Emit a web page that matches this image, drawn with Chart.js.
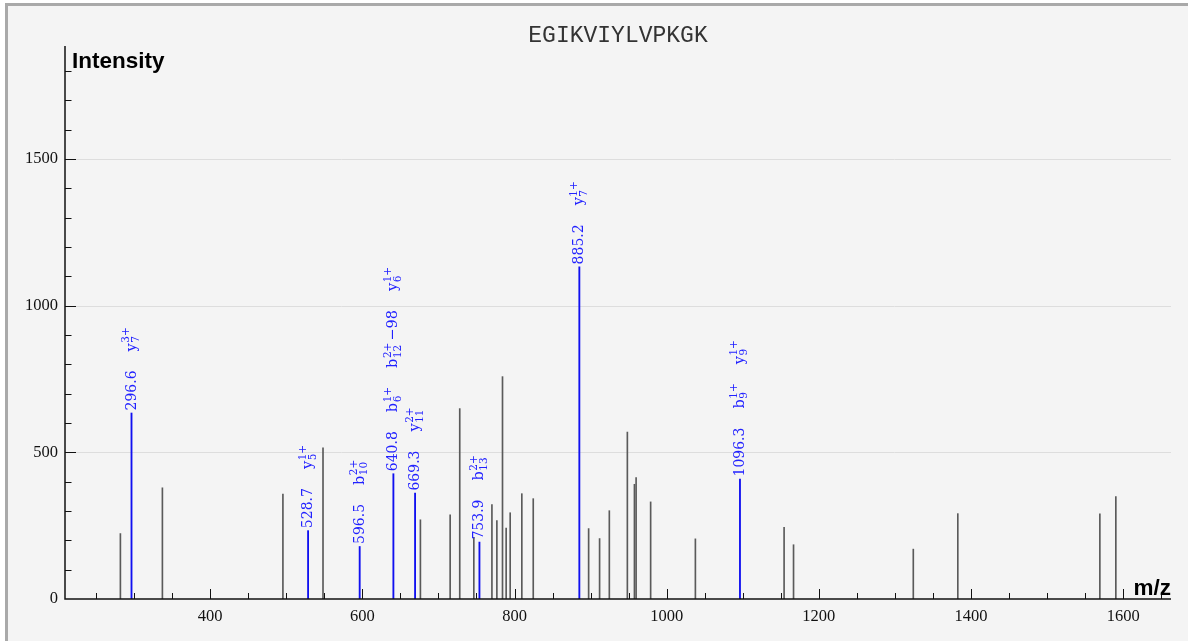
<!DOCTYPE html>
<html>
<head>
<meta charset="utf-8">
<script src="https://cdn.jsdelivr.net/npm/chart.js@4.4.1/dist/chart.umd.min.js"></script>
<style>
  html, body { margin: 0; padding: 0; background: #ffffff; overflow: hidden; }
  #frame {
    position: absolute; left: 5px; top: 3px; width: 1300px; height: 800px;
    border-top: 3px solid #a9a9a9; border-left: 3px solid #a9a9a9;
    background: #f4f4f4;
  }
  #wrap { position: absolute; left: 0; top: 0; width: 1188px; height: 641px; }
</style>
</head>
<body>
<div id="frame"></div>
<div id="wrap"><canvas id="myChart" width="1188" height="641"></canvas></div>
<script>
const peptide = "EGIKVIYLVPKGK";

// unmatched peaks (grey)
const peakMz = [282.0, 337.2, 495.6, 548.3, 676.3, 715.4, 728.0, 746.5, 770.3, 776.8,
  784.2, 789.0, 794.3, 809.6, 824.6, 897.4, 911.8, 924.6, 948.3, 957.6,
  959.8, 978.9, 1037.7, 1154.3, 1166.7, 1324.1, 1382.6, 1569.3, 1590.3];
const peakInt = [223, 379, 358, 515, 270, 287, 649, 210, 322, 267,
  758, 242, 294, 359, 342, 240, 206, 301, 569, 391,
  414, 331, 205, 244, 185, 170, 291, 290, 349];

// matched peaks (blue) and their ion labels: [ion, subscript, superscript, suffix]
const matchMz = [296.6, 528.7, 596.5, 640.8, 669.3, 753.9, 885.2, 1096.3];
const matchInt = [634, 233, 179, 427, 361, 194, 1132, 409];
const matchIons = [
  [["y", "7", "3+", ""]],
  [["y", "5", "1+", ""]],
  [["b", "10", "2+", ""]],
  [["b", "6", "1+", ""], ["b", "12", "2+", "\u221298"], ["y", "6", "1+", ""]],
  [["y", "11", "2+", ""]],
  [["b", "13", "2+", ""]],
  [["y", "7", "1+", ""]],
  [["b", "9", "1+", ""], ["y", "9", "1+", ""]],
];

// axis ticks
const xTickLabels = [400, 600, 800, 1000, 1200, 1400, 1600];
const yTickLabels = [0, 500, 1000, 1500];
const xMin = 209.2, xMax = 1662.8;
const yMax = 1885;

const blueText = "#2121ff";

const spectrumPlugin = {
  id: "spectrum",
  beforeDatasetsDraw(chart) {
    const { ctx, chartArea, scales } = chart;
    ctx.save();
    ctx.strokeStyle = "#dddddd";
    ctx.lineWidth = 1;
    yTickLabels.slice(1).forEach((v) => {
      const py = Math.round(scales.y.getPixelForValue(v)) + 0.5;
      ctx.beginPath();
      ctx.moveTo(chartArea.left, py);
      ctx.lineTo(chartArea.right, py);
      ctx.stroke();
    });
    ctx.restore();
  },
  afterDatasetsDraw(chart) {
    const { ctx, chartArea, scales } = chart;
    const x = scales.x, y = scales.y;
    ctx.save();

    // axes
    ctx.strokeStyle = "#111";
    ctx.lineWidth = 1.5;
    ctx.beginPath();
    ctx.moveTo(chartArea.left, chartArea.top);
    ctx.lineTo(chartArea.left, chartArea.bottom);
    ctx.lineTo(chartArea.right, chartArea.bottom);
    ctx.stroke();

    // tick marks pointing into the plot
    ctx.lineWidth = 1;
    for (let v = 250; v <= 1650; v += 50) {
      const px = Math.round(x.getPixelForValue(v)) + 0.5;
      const len = v % 200 === 0 ? 10 : 6;
      ctx.beginPath();
      ctx.moveTo(px, chartArea.bottom);
      ctx.lineTo(px, chartArea.bottom - len);
      ctx.stroke();
    }
    for (let v = 100; v <= 1800; v += 100) {
      const py = Math.round(y.getPixelForValue(v)) + 0.5;
      const len = v % 500 === 0 ? 11 : 6.5;
      ctx.beginPath();
      ctx.moveTo(chartArea.left, py);
      ctx.lineTo(chartArea.left + len, py);
      ctx.stroke();
    }

    // peak annotations
    ctx.fillStyle = blueText;
    ctx.textBaseline = "alphabetic";
    ctx.textAlign = "left";
    const gap = 19;
    matchMz.forEach((mz, i) => {
      const px = x.getPixelForValue(mz);
      const py = y.getPixelForValue(matchInt[i]);
      ctx.save();
      ctx.translate(px, py - 2.5);
      ctx.rotate(-Math.PI / 2);
      let u = 0;
      const base = 4;
      ctx.font = '14px "DejaVu Serif"';
      const val = mz.toFixed(1);
      ctx.fillText(val, u, base);
      u += ctx.measureText(val).width + gap;
      matchIons[i].forEach(([ion, sub, sup, suffix]) => {
        ctx.font = '14.5px "DejaVu Serif"';
        ctx.fillText(ion, u, base);
        u += ctx.measureText(ion).width + 0.5;
        ctx.font = '10.5px "DejaVu Serif"';
        ctx.fillText(sup, u, base - 6.5);
        ctx.fillText(sub, u, base + 3.5);
        u += Math.max(ctx.measureText(sup).width, ctx.measureText(sub).width);
        if (suffix) {
          u += 2;
          ctx.font = '14.5px "DejaVu Serif"';
          ctx.fillText(suffix, u, base);
          u += ctx.measureText(suffix).width;
        }
        u += gap;
      });
      ctx.restore();
    });

    // title and axis titles
    ctx.fillStyle = "#333";
    ctx.textAlign = "center";
    ctx.font = '23px "Liberation Mono"';
    ctx.fillText(peptide, (chartArea.left + chartArea.right) / 2, 41.5);

    ctx.fillStyle = "#000";
    ctx.font = 'bold 22.5px "Liberation Sans"';
    ctx.textAlign = "left";
    ctx.fillText("Intensity", chartArea.left + 7, 68);
    ctx.textAlign = "right";
    ctx.fillText("m/z", chartArea.right, 594.5);

    ctx.restore();
  },
};

document.addEventListener("DOMContentLoaded", function () {
  const ctx = document.getElementById("myChart").getContext("2d");

  new Chart(ctx, {
    type: "bar",
    data: {
      datasets: [
        {
          data: peakMz.map((mz, i) => ({ x: mz, y: peakInt[i] })),
          backgroundColor: "#5a5a5a",
          barThickness: 1,
          grouped: false,
        },
        {
          data: matchMz.map((mz, i) => ({ x: mz, y: matchInt[i] })),
          backgroundColor: "#1010f0",
          barThickness: 1.2,
          grouped: false,
        },
      ],
    },
    options: {
      responsive: false,
      animation: false,
      layout: {
        padding: { top: 46, right: 17, left: 0, bottom: 0 },
      },
      plugins: {
        legend: { display: false },
        tooltip: { enabled: false },
      },
      scales: {
        x: {
          type: "linear",
          min: xMin,
          max: xMax,
          offset: false,
          grid: { display: false, drawTicks: false },
          border: { display: false },
          afterFit: (scale) => { scale.height = 42; },
          afterBuildTicks: (scale) => {
            scale.ticks = xTickLabels.map((v) => ({ value: v }));
          },
          ticks: {
            autoSkip: false,
            maxRotation: 0,
            padding: 8,
            color: "#111",
            font: { family: "Liberation Serif", size: 16.5 },
            callback: (v) => String(v),
          },
        },
        y: {
          min: 0,
          max: yMax,
          grid: { display: false, drawTicks: false },
          border: { display: false },
          afterFit: (scale) => { scale.width = 65; },
          afterBuildTicks: (scale) => {
            scale.ticks = yTickLabels.map((v) => ({ value: v }));
          },
          ticks: {
            autoSkip: false,
            padding: 7,
            color: "#111",
            font: { family: "Liberation Serif", size: 16.5 },
            callback: (v) => String(v),
          },
        },
      },
    },
    plugins: [spectrumPlugin],
  });
});
</script>
</body>
</html>
